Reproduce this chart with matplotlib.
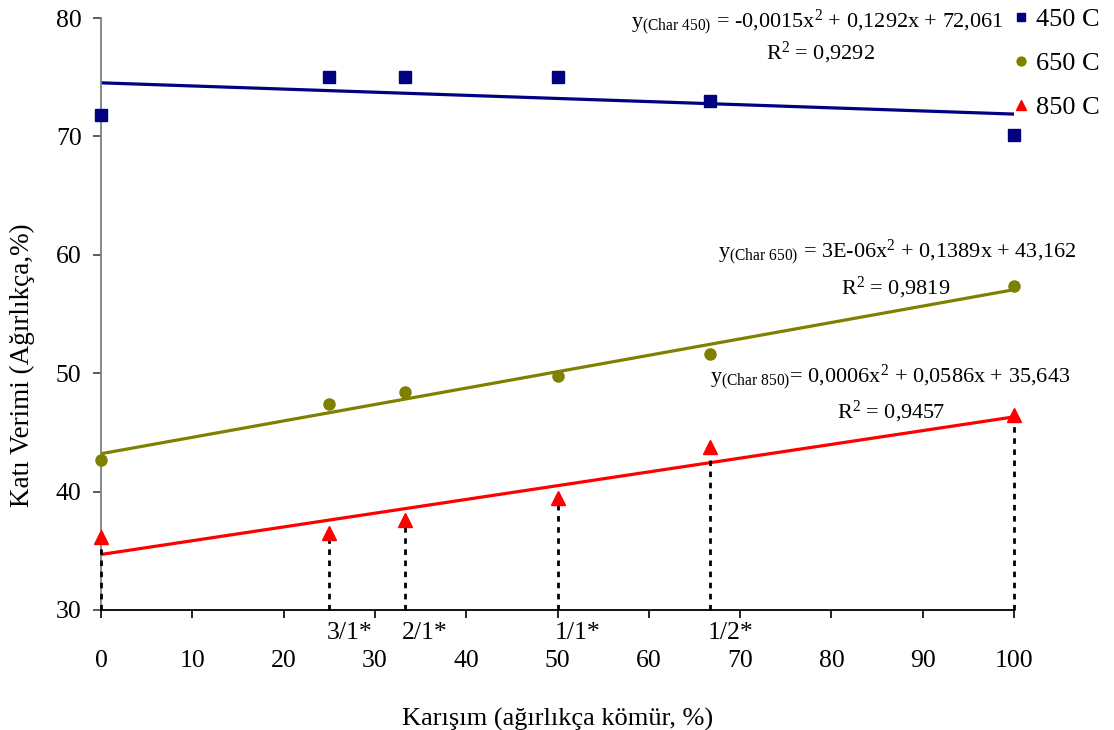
import numpy as np
import matplotlib.pyplot as plt

plt.rcParams["font.family"] = ["Liberation Serif", "DejaVu Serif"]
plt.rcParams["mathtext.fontset"] = "custom"
plt.rcParams["mathtext.rm"] = "Liberation Serif"
plt.rcParams["mathtext.it"] = "Liberation Serif:italic"

# Karışım oranları (ağırlıkça kömür, %)
komur = [0, 25, 33.3, 50, 66.7, 100]
oran_etiket = ["3/1*", "2/1*", "1/1*", "1/2*"]
oran_x = [25, 33.3, 50, 66.7]

# Katı verimleri (%)
verim_450 = [71.8, 75.0, 75.0, 75.0, 73.0, 70.1]
verim_650 = [42.7, 47.4, 48.4, 49.8, 51.6, 57.4]
verim_850 = [36.2, 36.5, 37.6, 39.5, 43.8, 46.5]

denklem_450 = r"y$_{\rm (Char\ 450)}$ = -0,0015x$^{2}$ + 0,1292x + 72,061"
denklem_650 = r"y$_{\rm (Char\ 650)}$ = 3E-06x$^{2}$ + 0,1389x + 43,162"
denklem_850 = r"y$_{\rm (Char\ 850)}$= 0,0006x$^{2}$ + 0,0586x + 35,643"
r2_450 = r"R$^{2}$ = 0,9292"
r2_650 = r"R$^{2}$ = 0,9819"
r2_850 = r"R$^{2}$ = 0,9457"

FS = 18.5

fig = plt.figure(figsize=(11.14, 7.30), dpi=100)
ax = fig.add_axes([0.0907, 0.1644, 0.8195, 0.8109])

seriler = [
    (verim_450, "#000080", "s", 8, "450 C"),
    (verim_650, "#808000", "o", 8, "650 C"),
    (verim_850, "#FF0000", "^", 9.5, "850 C"),
]

xx = np.array([0, 100])
for y, renk, mk, ms, ad in seriler:
    # doğrusal eğilim çizgisi
    a, b = np.polyfit(komur, y, 1)
    ax.plot(xx, a * xx + b, color=renk, lw=2.3, zorder=2)
    ax.plot(komur, y, ls="none", marker=mk, ms=ms, color=renk,
            label=ad, zorder=4, clip_on=False)

# 850 C noktalarından eksene inen kesikli çizgiler
ax.vlines(komur, 30, verim_850, colors="black", lw=2,
          linestyles=(0, (2, 2)), zorder=3, clip_on=False)

ax.set_xlim(0, 100)
ax.set_ylim(30, 80)
ax.set_xticks(range(0, 101, 10))
ax.set_yticks(range(30, 81, 10))

for s in ["top", "right"]:
    ax.spines[s].set_visible(False)
ax.spines["left"].set_color("#808080")
ax.spines["left"].set_linewidth(1.3)
ax.spines["bottom"].set_color("black")
ax.spines["bottom"].set_linewidth(1.3)

ax.tick_params(axis="x", direction="out", length=6, width=1.2,
               color="black", labelsize=FS, pad=23)
ax.tick_params(axis="y", direction="out", length=6, width=1.2,
               color="#404040", labelsize=FS, pad=8)

for lbl, xv in zip(oran_etiket, oran_x):
    ax.text(xv - 0.3, 29.0, lbl, ha="left", va="top", fontsize=FS,
            clip_on=False)

ax.set_xlabel("Karışım (ağırlıkça kömür, %)", fontsize=19, labelpad=26)
ax.set_ylabel("Katı Verimi (Ağırlıkça,%)", fontsize=19.5, va="center")
ax.yaxis.set_label_coords(-0.0865, 0.414)

kw = dict(ha="center", va="baseline", fontsize=16, clip_on=False)
ax.text(78.5, 79.24, denklem_450, **kw)
ax.text(78.8, 76.54, r2_450, **kw)
ax.text(87.2, 59.81, denklem_650, **kw)
ax.text(87.0, 56.69, r2_650, **kw)
ax.text(86.4, 49.26, denklem_850, **kw)
ax.text(86.5, 46.22, r2_850, **kw)

ax.legend(loc="upper left", bbox_to_anchor=(0.988, 1.035), frameon=False,
          fontsize=19, handlelength=0.6, handletextpad=0.25,
          labelspacing=0.78, borderaxespad=0, markerscale=0.8)

fig.savefig("out.png", dpi=100)
